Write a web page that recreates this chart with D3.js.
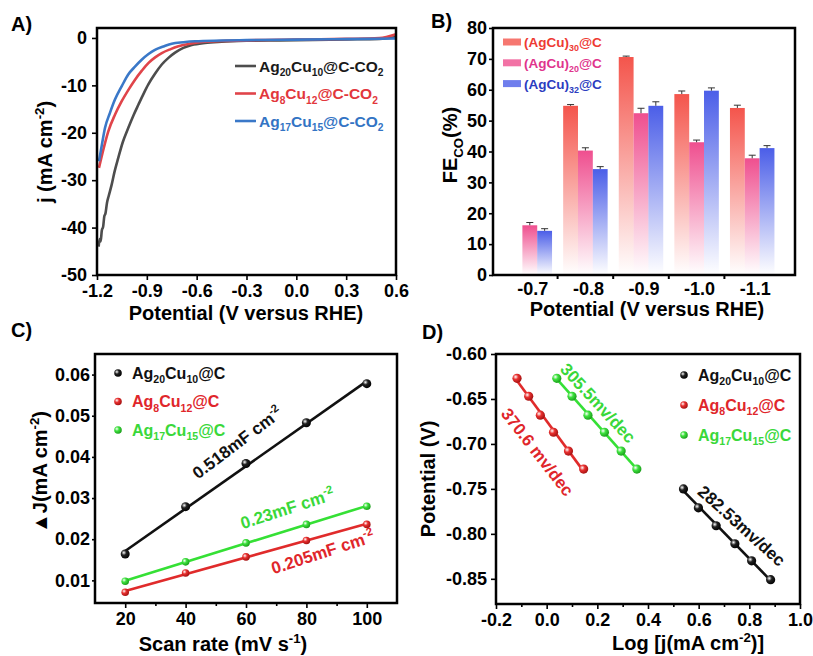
<!DOCTYPE html>
<html lang="en">
<head>
<meta charset="UTF-8">
<title>AgCu cluster electrochemistry</title>
<style>
    body{ margin:0; background:#fff; }
    svg{ display:block; font-family:"Liberation Sans", Arial, sans-serif; font-weight:bold; }
    .axis text{ font-size:18px; font-weight:bold; fill:#000; }
    .axis path{ display:none; }
    .axis line{ stroke:#000; stroke-width:1.6; }
    .frame{ fill:none; stroke:#000; stroke-width:2.5; }
    .title{ font-size:20px; fill:#000; }
    .tag{ font-size:20px; fill:#000; }
</style>
</head>
<body>
<svg width="813" height="656"></svg>
<script src="https://cdn.jsdelivr.net/npm/d3@7/dist/d3.min.js"></script>
<script>
// ---------- A) LSV curves  [potential, j]
var lsvNames = ["Ag_{20}Cu_{10}@C-CO_{2}", "Ag_{8}Cu_{12}@C-CO_{2}", "Ag_{17}Cu_{15}@C-CO_{2}"];
var lsvBlack = [[-1.190,-44.0],[-1.184,-42.4],[-1.178,-42.9],[-1.171,-40.6],[-1.163,-39.8],[-1.156,-37.6],
    [-1.149,-37.0],[-1.140,-34.8],[-1.130,-33.4],[-1.112,-31.0],[-1.095,-28.3],[-1.072,-25.3],[-1.045,-22.0],
    [-1.012,-19.0],[-0.980,-16.3],[-0.951,-14.1],[-0.920,-11.8],[-0.891,-9.8],[-0.850,-7.5],[-0.810,-5.6],
    [-0.770,-4.2],[-0.730,-3.1],[-0.680,-2.1],[-0.630,-1.5],[-0.550,-1.05],[-0.450,-0.8],[-0.300,-0.6],
    [-0.100,-0.5],[0.100,-0.4],[0.300,-0.3],[0.500,-0.2],[0.600,0.2]];
var lsvRed = [[-1.188,-27.4],[-1.160,-23.3],[-1.132,-19.7],[-1.092,-16.2],[-1.052,-13.4],[-1.010,-10.9],
    [-0.971,-8.8],[-0.930,-6.9],[-0.891,-5.3],[-0.850,-4.1],[-0.810,-3.2],[-0.760,-2.4],[-0.710,-1.75],
    [-0.640,-1.2],[-0.570,-0.85],[-0.450,-0.65],[-0.300,-0.5],[0.000,-0.35],[0.300,-0.2],[0.500,0.0],[0.600,0.8]];
var lsvBlue = [[-1.188,-26.0],[-1.170,-22.4],[-1.152,-19.0],[-1.122,-15.8],[-1.092,-13.0],[-1.050,-10.1],
    [-1.012,-7.7],[-0.970,-6.0],[-0.931,-4.6],[-0.890,-3.4],[-0.851,-2.5],[-0.800,-1.8],[-0.750,-1.2],
    [-0.680,-0.9],[-0.610,-0.7],[-0.450,-0.55],[-0.300,-0.45],[0.000,-0.35],[0.300,-0.25],[0.600,-0.1]];
var lsvTicksX = [-1.2,-0.9,-0.6,-0.3,0,0.3,0.6];
var lsvTicksY = [-50,-40,-30,-20,-10,0];

// ---------- B) FE_CO bars
var feCats = ["-0.7","-0.8","-0.9","-1.0","-1.1"];
var feNames = ["(AgCu)_{30}@C","(AgCu)_{20}@C","(AgCu)_{32}@C"];
var fe30 = [0, 54.8, 70.6, 58.6, 54.1];
var fe20 = [16.1, 40.3, 52.4, 43.0, 37.8];
var fe32 = [14.3, 34.3, 54.8, 59.7, 41.1];
var err30 = [0, 0.4, 0.3, 1.0, 0.9];
var err20 = [0.9, 0.9, 1.6, 0.7, 1.0];
var err32 = [0.7, 0.8, 1.3, 0.9, 0.8];

// ---------- C) double layer capacitance
var cdlNames = ["Ag_{20}Cu_{10}@C","Ag_{8}Cu_{12}@C","Ag_{17}Cu_{15}@C"];
var scanRates = [20, 40, 60, 80, 100];
var cdlBlack = [0.0164, 0.0279, 0.0384, 0.0483, 0.0578];
var cdlRed = [0.0071, 0.0118, 0.0157, 0.0197, 0.0236];
var cdlGreen = [0.0098, 0.0145, 0.0191, 0.0236, 0.0280];
var cdlLabels = ["0.518mF cm^{-2}", "0.205mF cm^{-2}", "0.23mF cm^{-2}"];

// ---------- D) Tafel
var tafelXBlack = [0.540, 0.599, 0.669, 0.743, 0.809, 0.884];
var tafelYBlack = [-0.750, -0.771, -0.791, -0.811, -0.830, -0.851];
var tafelXRed = [-0.117, -0.071, -0.025, 0.027, 0.086, 0.146];
var tafelYRed = [-0.627, -0.647, -0.668, -0.687, -0.708, -0.728];
var tafelXGreen = [0.040, 0.100, 0.163, 0.228, 0.294, 0.356];
var tafelYGreen = [-0.627, -0.647, -0.668, -0.687, -0.708, -0.728];
var tafelLabels = ["282.53mv/dec", "370.6 mv/dec", "305.5mv/dec"];

var svg = d3.select("svg");
svg.append("rect").attr("width", 813).attr("height", 656).attr("fill", "#fff");
var defs = svg.append("defs");

// text with _{sub} and ^{sup}
function rich(sel, str, fs){
    var parts = str.split(/([_^]\{[^}]*\})/).filter(function(s){ return s.length; });
    var off = 0;
    parts.forEach(function(p){
        var kind = p[0] == "_" && p[1] == "{" ? "sub" : (p[0] == "^" && p[1] == "{" ? "sup" : "");
        var txt = kind ? p.slice(2, -1) : p;
        var target = kind == "sub" ? fs*0.3 : (kind == "sup" ? -fs*0.42 : 0);
        var t = sel.append("tspan").attr("dy", target - off).text(txt);
        if(kind) t.attr("font-size", fs*0.66);
        off = target;
    });
    return sel;
}
function hy(f){ return function(d){ return f(d).replace("\u2212", "-"); }; }

function frame(g, w, h){
    g.append("rect").attr("class", "frame").attr("width", w).attr("height", h);
}

function ball(id, c, dark){
    var rg = defs.append("radialGradient").attr("id", id).attr("cx", "35%").attr("cy", "35%").attr("r", "70%");
    rg.append("stop").attr("offset", "0").attr("stop-color", "#fff");
    rg.append("stop").attr("offset", "0.4").attr("stop-color", c);
    rg.append("stop").attr("offset", "1").attr("stop-color", dark);
}
ball("ballK", "#222", "#000");
ball("ballR", "#e8302f", "#a01010");
ball("ballG", "#3ee23e", "#1a9a1a");

// ================= A =================
var wA = 299, hA = 247;
var gA = svg.append("g").attr("transform", "translate(97,28)");
var xA = d3.scaleLinear().domain([-1.2, 0.6]).range([0, wA]);
var yA = d3.scaleLinear().domain([-50, 2.1]).range([hA, 0]);
gA.append("g").attr("class", "axis").attr("transform", "translate(0," + hA + ")")
    .call(d3.axisBottom(xA).tickValues(lsvTicksX).tickFormat(hy(d3.format(".1f"))).tickSize(5).tickPadding(4));
gA.append("g").attr("class", "axis")
    .call(d3.axisLeft(yA).tickValues(lsvTicksY).tickFormat(hy(d3.format("d"))).tickSize(5).tickPadding(5));

var lsvColors = ["#4d4d4d", "#e0444a", "#3a78c8"];
var lsvText = ["#1a1a1a", "#e2373c", "#3374c4"];
var lineA = d3.line().x(function(d){ return xA(d[0]); }).y(function(d){ return yA(d[1]); }).curve(d3.curveMonotoneX);
[lsvBlack, lsvRed, lsvBlue].forEach(function(s, i){
    gA.append("path").datum(s).attr("d", lineA).attr("fill", "none")
        .attr("stroke", lsvColors[i]).attr("stroke-width", 2.6).attr("stroke-linejoin", "round");
});
lsvNames.forEach(function(n, i){
    var yy = 38 + i*27.5;
    gA.append("line").attr("x1", 138).attr("x2", 159).attr("y1", yy).attr("y2", yy)
        .attr("stroke", lsvColors[i]).attr("stroke-width", 2.6);
    rich(gA.append("text").attr("x", 162).attr("y", yy + 5.5).attr("font-size", 15.5).attr("fill", lsvText[i]), n, 15.5);
});
frame(gA, wA, hA);
rich(svg.append("text").attr("class", "title").attr("text-anchor", "middle")
    .attr("transform", "translate(52,152) rotate(-90)"), "j (mA cm^{-2})", 20);
svg.append("text").attr("class", "title").attr("text-anchor", "middle").attr("x", 246).attr("y", 320)
    .text("Potential (V versus RHE)");
svg.append("text").attr("class", "tag").attr("x", 11).attr("y", 31).text("A)");

// ================= B =================
var wB = 302, hB = 247;
var gB = svg.append("g").attr("transform", "translate(493,28)");
var xB = d3.scaleBand().domain(feCats).range([9, 287]).paddingInner(0.2).paddingOuter(0.1);
var sB = d3.scaleBand().domain([0, 1, 2]).range([0, xB.bandwidth()]);
var yB = d3.scaleLinear().domain([0, 80]).range([hB, 0]);
gB.append("g").attr("class", "axis").attr("transform", "translate(0," + hB + ")")
    .call(d3.axisBottom(xB).tickSize(0).tickPadding(7))
    .selectAll("text").attr("dx", 3);
gB.append("g").attr("class", "axis")
    .call(d3.axisLeft(yB).ticks(8).tickSize(4).tickPadding(2));
// small ticks between groups
gB.selectAll(".sep").data(feCats.slice(1)).enter().append("line")
    .attr("x1", function(d){ return xB(d) - xB.step()*xB.paddingInner()/2; })
    .attr("x2", function(d){ return xB(d) - xB.step()*xB.paddingInner()/2; })
    .attr("y1", hB).attr("y2", hB + 4).attr("stroke", "#000").attr("stroke-width", 2);

var feColors = ["#f4554c", "#ef4f8f", "#4b5ee8"];
var feText = ["#ee3a33", "#e0348c", "#2c3cc0"];
feColors.forEach(function(c, i){
    var lg = defs.append("linearGradient").attr("id", "fe" + i).attr("x1", 0).attr("y1", 0).attr("x2", 0).attr("y2", 1);
    lg.append("stop").attr("offset", "0").attr("stop-color", c).attr("stop-opacity", 1);
    lg.append("stop").attr("offset", "0.55").attr("stop-color", c).attr("stop-opacity", 0.45);
    lg.append("stop").attr("offset", "1").attr("stop-color", c).attr("stop-opacity", 0);
});
var feRows = [];
[fe30, fe20, fe32].forEach(function(vals, s){
    var errs = [err30, err20, err32][s];
    vals.forEach(function(v, k){
        if(v > 0) feRows.push({cat: feCats[k], s: s, v: v, e: errs[k]});
    });
});
var barB = gB.selectAll(".bar").data(feRows).enter().append("g")
    .attr("transform", function(d){ return "translate(" + (xB(d.cat) + sB(d.s)) + ",0)"; });
barB.append("rect")
    .attr("y", function(d){ return yB(d.v); })
    .attr("height", function(d){ return yB(0) - yB(d.v); })
    .attr("width", sB.bandwidth())
    .attr("fill", function(d){ return "url(#fe" + d.s + ")"; });
barB.append("line").attr("x1", sB.bandwidth()/2).attr("x2", sB.bandwidth()/2)
    .attr("y1", function(d){ return yB(d.v); }).attr("y2", function(d){ return yB(d.v + d.e); })
    .attr("stroke", "#333").attr("stroke-width", 1);
barB.append("line").attr("x1", sB.bandwidth()/2 - 3.5).attr("x2", sB.bandwidth()/2 + 3.5)
    .attr("y1", function(d){ return yB(d.v + d.e); }).attr("y2", function(d){ return yB(d.v + d.e); })
    .attr("stroke", "#333").attr("stroke-width", 1);
feNames.forEach(function(n, i){
    var yy = 14 + i*20.8;
    gB.append("rect").attr("x", 10).attr("y", yy - 3.5).attr("width", 18).attr("height", 7)
        .attr("fill", feColors[i]).attr("opacity", 0.8);
    rich(gB.append("text").attr("x", 31).attr("y", yy + 5).attr("font-size", 13.5).attr("fill", feText[i]), n, 13.5);
});
frame(gB, wB, hB);
rich(svg.append("text").attr("class", "title").attr("text-anchor", "middle")
    .attr("transform", "translate(457,145) rotate(-90)"), "FE_{CO}(%)", 20);
svg.append("text").attr("class", "title").attr("text-anchor", "middle").attr("x", 647).attr("y", 316)
    .text("Potential (V versus RHE)");
svg.append("text").attr("class", "tag").attr("x", 431).attr("y", 28).text("B)");

// ================= C =================
var wC = 302, hC = 249;
var gC = svg.append("g").attr("transform", "translate(95,354)");
var xC = d3.scaleLinear().domain([10, 110]).range([0, wC]);
var yC = d3.scaleLinear().domain([0.0045, 0.065]).range([hC, 0]);
gC.append("g").attr("class", "axis").attr("transform", "translate(0," + hC + ")")
    .call(d3.axisBottom(xC).tickValues([20, 40, 60, 80, 100]).tickSize(5).tickPadding(4));
gC.append("g").attr("class", "axis").attr("transform", "translate(0," + hC + ")")
    .call(d3.axisBottom(xC).tickValues([30, 50, 70, 90]).tickSize(3).tickFormat(""));
gC.append("g").attr("class", "axis")
    .call(d3.axisLeft(yC).tickValues([0.01, 0.02, 0.03, 0.04, 0.05, 0.06]).tickFormat(d3.format(".2f")).tickSize(3).tickPadding(2));

var cColors = ["#111", "#e02b2b", "#35e035"];
var cText = ["#111", "#e0262b", "#3ad83a"];
var cBalls = ["url(#ballK)", "url(#ballR)", "url(#ballG)"];
[cdlBlack, cdlRed, cdlGreen].forEach(function(vals, i){
    // least squares fit line
    var mx = d3.mean(scanRates), my = d3.mean(vals);
    var sxy = d3.sum(scanRates, function(x, k){ return (x - mx)*(vals[k] - my); });
    var sxx = d3.sum(scanRates, function(x){ return (x - mx)*(x - mx); });
    var b = sxy/sxx, a = my - b*mx;
    gC.append("line").attr("x1", xC(20)).attr("x2", xC(100))
        .attr("y1", yC(a + b*20)).attr("y2", yC(a + b*100))
        .attr("stroke", cColors[i]).attr("stroke-width", 2.6);
    gC.selectAll(".pt" + i).data(vals).enter().append("circle")
        .attr("cx", function(d, k){ return xC(scanRates[k]); })
        .attr("cy", function(d){ return yC(d); })
        .attr("r", i == 0 ? 4.5 : 3.8).attr("fill", cBalls[i]);
    gC.append("circle").attr("cx", 23).attr("cy", 19 + i*28.5).attr("r", 3.8).attr("fill", cBalls[i]);
    rich(gC.append("text").attr("x", 37).attr("y", 19 + i*28.5 + 5.5).attr("font-size", 16).attr("fill", cText[i]), cdlNames[i], 16);
});
var cAnno = [[58.3, 0.0423, -37], [86, 0.0155, -18], [74.3, 0.0261, -18]];
cAnno.forEach(function(p, i){
    rich(gC.append("text").attr("text-anchor", "middle").attr("font-size", 17).attr("fill", cText[i])
        .attr("transform", "translate(" + xC(p[0]) + "," + yC(p[1]) + ") rotate(" + p[2] + ")")
        .attr("dy", 6), cdlLabels[i], 17);
});
frame(gC, wC, hC);
rich(svg.append("text").attr("class", "title").attr("text-anchor", "middle")
    .attr("transform", "translate(47,472) rotate(-90)"), "\u25B2J(mA cm^{-2})", 20);
rich(svg.append("text").attr("class", "title").attr("text-anchor", "middle").attr("x", 223).attr("y", 651),
    "Scan rate (mV s^{-1})", 20);
svg.append("text").attr("class", "tag").attr("x", 11).attr("y", 337).text("C)");

// ================= D =================
var wD = 304, hD = 250;
var gD = svg.append("g").attr("transform", "translate(496,354)");
var xD = d3.scaleLinear().domain([-0.2, 1.0]).range([0, wD]);
var yD = d3.scaleLinear().domain([-0.878, -0.6]).range([hD, 0]);
gD.append("g").attr("class", "axis").attr("transform", "translate(0," + hD + ")")
    .call(d3.axisBottom(xD).tickValues([-0.2, 0, 0.2, 0.4, 0.6, 0.8, 1.0]).tickFormat(hy(d3.format(".1f"))).tickSize(5).tickPadding(4));
gD.append("g").attr("class", "axis").attr("transform", "translate(0," + hD + ")")
    .call(d3.axisBottom(xD).tickValues([-0.1, 0.1, 0.3, 0.5, 0.7, 0.9]).tickSize(3).tickFormat(""));
gD.append("g").attr("class", "axis")
    .call(d3.axisLeft(yD).tickValues([-0.85, -0.8, -0.75, -0.7, -0.65, -0.6]).tickFormat(hy(d3.format(".2f"))).tickSize(5).tickPadding(4));

var tafX = [tafelXBlack, tafelXRed, tafelXGreen];
var tafY = [tafelYBlack, tafelYRed, tafelYGreen];
tafX.forEach(function(xs, i){
    var ys = tafY[i];
    var mx = d3.mean(xs), my = d3.mean(ys);
    var sxy = d3.sum(xs, function(x, k){ return (x - mx)*(ys[k] - my); });
    var sxx = d3.sum(xs, function(x){ return (x - mx)*(x - mx); });
    var b = sxy/sxx, a = my - b*mx;
    gD.append("line").attr("x1", xD(xs[0])).attr("x2", xD(xs[xs.length - 1]))
        .attr("y1", yD(a + b*xs[0])).attr("y2", yD(a + b*xs[xs.length - 1]))
        .attr("stroke", cColors[i]).attr("stroke-width", 2.6);
    gD.selectAll(".pt" + i).data(xs).enter().append("circle")
        .attr("cx", function(d){ return xD(d); })
        .attr("cy", function(d, k){ return yD(ys[k]); })
        .attr("r", 4.6).attr("fill", cBalls[i]);
    gD.append("circle").attr("cx", 188).attr("cy", 21 + i*30).attr("r", 3.8).attr("fill", cBalls[i]);
    rich(gD.append("text").attr("x", 202).attr("y", 21 + i*30 + 5.5).attr("font-size", 16).attr("fill", cText[i]), cdlNames[i], 16);
});
var dAnno = [[0.770, -0.791, 42], [-0.036, -0.709, 52], [0.203, -0.6545, 47]];
dAnno.forEach(function(p, i){
    gD.append("text").attr("text-anchor", "middle").attr("font-size", 17).attr("fill", cText[i])
        .attr("transform", "translate(" + xD(p[0]) + "," + yD(p[1]) + ") rotate(" + p[2] + ")")
        .attr("dy", 6).text(tafelLabels[i]);
});
frame(gD, wD, hD);
svg.append("text").attr("class", "title").attr("text-anchor", "middle")
    .attr("transform", "translate(435,479) rotate(-90)").text("Potential (V)");
rich(svg.append("text").attr("class", "title").attr("text-anchor", "middle").attr("x", 688).attr("y", 650),
    "Log [j(mA cm^{-2})]", 20);
svg.append("text").attr("class", "tag").attr("x", 422).attr("y", 339).text("D)");
</script>
</body>
</html>
